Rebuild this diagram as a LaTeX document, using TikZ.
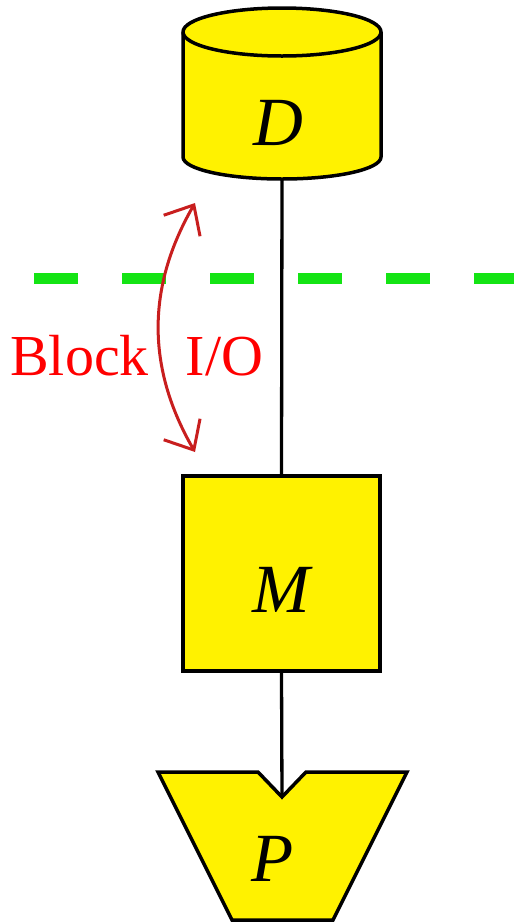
\documentclass[tikz,border=0pt]{standalone}
\usepackage{fontspec}
\setmainfont{Liberation Serif}
\usetikzlibrary{arrows.meta}
\definecolor{ioGreen}{RGB}{20,228,20}
\definecolor{ioRed}{RGB}{255,0,0}
\definecolor{arrRed}{RGB}{200,30,30}
\begin{document}
\begin{tikzpicture}[x=1pt,y=1pt,
  shapeline/.style={draw=black,line width=3.5pt,fill=yellow,line join=miter},
  conn/.style={draw=black,line width=3.3pt},
  letter/.style={inner sep=0pt,anchor=base,font=\fontsize{69}{69}\selectfont\itshape},
  iolabel/.style={inner sep=0pt,anchor=base west,text=ioRed,font=\fontsize{58}{58}\selectfont}]
\useasboundingbox (0,0) rectangle (514,-922);
% green dashed boundary
\coordinate (gL) at (34,-278);
\coordinate (gR) at (514,-278);
\draw[ioGreen,line width=11pt,dash pattern=on 44pt off 44pt] (gL) -- (gR);
% cylinder D
\path[shapeline] (183,-32) -- (183,-157) arc[start angle=180,end angle=360,x radius=99,y radius=22]
  -- (381,-32) arc[start angle=0,end angle=180,x radius=99,y radius=24] -- cycle;
\draw[line width=3.5pt] (183,-32) arc[start angle=180,end angle=360,x radius=99,y radius=24];
\coordinate (Dbot) at (282,-179);
\node[letter] (D) at (278,-145) {D};
% memory M
\node[shapeline,minimum width=197pt,minimum height=195pt,inner sep=0pt] (M) at (281.5,-573.5) {};
\node[letter] (Mlabel) at (281,-612) {M};
% processor P
\coordinate (Ptl) at (158,-772);
\coordinate (Pnl) at (258,-772);
\coordinate (Pnotch) at (282,-797);
\coordinate (Pnr) at (306,-772);
\coordinate (Ptr) at (407,-772);
\coordinate (Pbr) at (333,-920);
\coordinate (Pbl) at (232,-920);
\path[shapeline] (Ptl) -- (Pnl) -- (Pnotch) -- (Pnr) -- (Ptr) -- (Pbr) -- (Pbl) -- cycle;
\node[letter] (P) at (273,-881) {P};
% connectors
\draw[conn] (Dbot) -- (M.north);
\draw[conn] (M.south) -- (Pnotch);
% block I/O arrow
\coordinate (aTop) at (195,-203);
\coordinate (aBot) at (195,-452);
\draw[arrRed,line width=3pt,{Straight Barb[length=24pt,width=42pt]}-{Straight Barb[length=24pt,width=42pt]}]
  (aTop) to[bend right=30] (aBot);
\node[iolabel] (io) at (10,-375) {Block\hspace{37pt}I/O};
\end{tikzpicture}
\end{document}
